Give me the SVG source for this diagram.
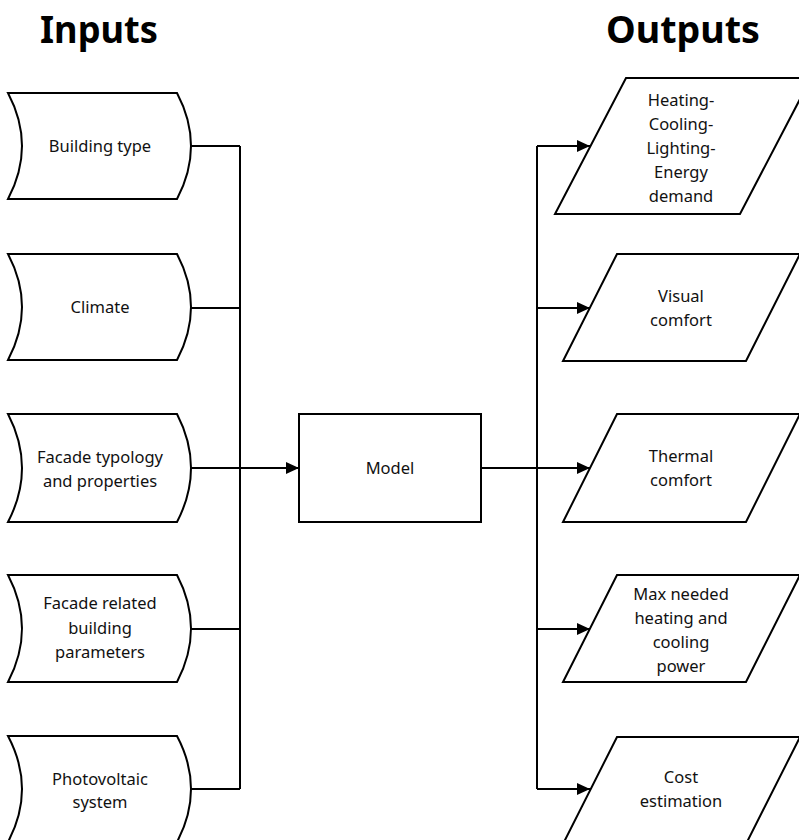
<svg xmlns="http://www.w3.org/2000/svg" width="799" height="840" viewBox="0 0 799 840">
<style>
.shape{fill:#fff;stroke:#000;stroke-width:2}
.conn{fill:none;stroke:#000;stroke-width:2}
.t{font-family:"Noto Sans","Open Sans","DejaVu Sans",sans-serif;font-size:16.5px;fill:#111;text-anchor:middle}
.title{font-family:"Noto Sans","Open Sans","DejaVu Sans",sans-serif;font-size:38px;font-weight:bold;fill:#000}
</style>
<defs>
<marker id="arr" markerUnits="userSpaceOnUse" markerWidth="14" markerHeight="14" refX="13" refY="7" orient="auto">
<path d="M0,1 L13,7 L0,13 Z" fill="#000"/>
</marker>
</defs>
<rect width="799" height="840" fill="#fff"/>
<text class="title" x="40" y="43" textLength="118" lengthAdjust="spacingAndGlyphs">Inputs</text>
<text class="title" x="606" y="43" textLength="154" lengthAdjust="spacingAndGlyphs">Outputs</text>

<g id="connectors">
<path class="conn" d="M191,146 H240 M191,308 H240 M191,468 H240 M191,629 H240 M191,789 H240 M240,146 V789"/>
<path class="conn" d="M240,468 H299" marker-end="url(#arr)"/>
<path class="conn" d="M481,468 H537 M537,146 V789"/>
<path class="conn" d="M537,146 H590" marker-end="url(#arr)"/>
<path class="conn" d="M537,308 H590" marker-end="url(#arr)"/>
<path class="conn" d="M537,468 H590" marker-end="url(#arr)"/>
<path class="conn" d="M537,629 H590" marker-end="url(#arr)"/>
<path class="conn" d="M537,789 H590" marker-end="url(#arr)"/>
</g>

<g id="in1">
<path class="shape" d="M8,93 H177 Q205,146 177,199 H8 Q36,146 8,93 Z"/>
<text class="t" x="100" y="152">Building type</text>
</g>
<g id="in2">
<path class="shape" d="M8,254 H177 Q205,307 177,360 H8 Q36,307 8,254 Z"/>
<text class="t" x="100" y="313">Climate</text>
</g>
<g id="in3">
<path class="shape" d="M8,414 H177 Q205,468 177,522 H8 Q36,468 8,414 Z"/>
<text class="t" x="100" y="463">Facade typology</text>
<text class="t" x="100" y="487">and properties</text>
</g>
<g id="in4">
<path class="shape" d="M8,575 H177 Q205,628.5 177,682 H8 Q36,628.5 8,575 Z"/>
<text class="t" x="100" y="609">Facade related</text>
<text class="t" x="100" y="634">building</text>
<text class="t" x="100" y="658">parameters</text>
</g>
<g id="in5">
<path class="shape" d="M8,736 H177 Q205,789 177,842 H8 Q36,789 8,736 Z"/>
<text class="t" x="100" y="785">Photovoltaic</text>
<text class="t" x="100" y="808">system</text>
</g>

<g id="model">
<rect class="shape" x="299" y="414" width="182" height="108"/>
<text class="t" x="390" y="474">Model</text>
</g>

<g id="out1">
<path class="shape" d="M626,78 H811 L740,214 H555 Z"/>
<text class="t" x="681" y="106">Heating-</text>
<text class="t" x="681" y="130">Cooling-</text>
<text class="t" x="681" y="154">Lighting-</text>
<text class="t" x="681" y="178">Energy</text>
<text class="t" x="681" y="202">demand</text>
</g>
<g id="out2">
<path class="shape" d="M617,254 H800 L746,361 H563 Z"/>
<text class="t" x="681" y="302">Visual</text>
<text class="t" x="681" y="326">comfort</text>
</g>
<g id="out3">
<path class="shape" d="M617,414 H800 L746,522 H563 Z"/>
<text class="t" x="681" y="462">Thermal</text>
<text class="t" x="681" y="486">comfort</text>
</g>
<g id="out4">
<path class="shape" d="M617,575 H800 L746,682 H563 Z"/>
<text class="t" x="681" y="600">Max needed</text>
<text class="t" x="681" y="624">heating and</text>
<text class="t" x="681" y="648">cooling</text>
<text class="t" x="681" y="672">power</text>
</g>
<g id="out5">
<path class="shape" d="M617,737 H800 L746,844 H563 Z"/>
<text class="t" x="681" y="783">Cost</text>
<text class="t" x="681" y="807">estimation</text>
</g>
</svg>
